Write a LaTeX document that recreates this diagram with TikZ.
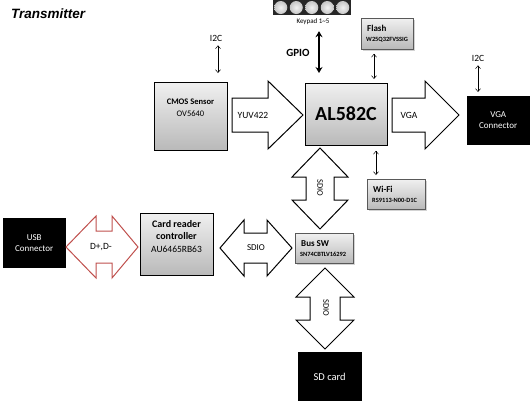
\documentclass[tikz,border=0pt]{standalone}
\usepackage{fontspec}
\setmainfont{Carlito}
\newfontfamily\titlefont{Liberation Sans}
\usetikzlibrary{shadows,arrows.meta}
\definecolor{usbred}{HTML}{C0504D}
\tikzset{
  graybox/.style={draw=black, line width=0.8pt, top color=gray!12, bottom color=gray!55, rectangle, inner sep=0pt, anchor=north west},
  smallbox/.style={graybox, draw=gray!70!black, drop shadow={shadow xshift=1.5pt, shadow yshift=-1.5pt, opacity=0.35}},
  blackbox/.style={fill=black, draw=black, rectangle, inner sep=0pt, anchor=north west, text=white, align=center, font=\fontsize{9}{11}\selectfont},
  blockarrow/.style={draw=black, line width=1pt, fill=white, line join=miter},
  thinarrow/.style={{Straight Barb[length=3pt,width=5pt]}-{Straight Barb[length=3pt,width=5pt]}, line width=0.5pt},
  lbl/.style={inner sep=0pt, align=center},
  tiny/.style={inner sep=0pt, anchor=west, font=\fontsize{6.4}{7}\bfseries\selectfont},
  boxtitle/.style={inner sep=0pt, anchor=west, font=\fontsize{9}{10}\bfseries\selectfont}
}
\begin{document}
\begin{tikzpicture}[x=1pt,y=-1pt]
\useasboundingbox (0,0) rectangle (530,400);

% title
\node[inner sep=0pt, anchor=west, font=\titlefont\fontsize{13.5}{15}\bfseries\itshape\selectfont] (title) at (11,14) {Transmitter};

% keypad
\foreach \i in {0,...,4} {
  \fill[black!85] (273+15.5*\i,0) rectangle (288.5+15.5*\i,15);
  \shade[inner color=gray!10, outer color=gray!45] (280.75+15.5*\i,7.5) circle (6.5);
}
\node[lbl, font=\fontsize{7}{8}\selectfont] (keypad) at (313,22) {Keypad 1\textasciitilde5};
\node[lbl, font=\fontsize{11}{12}\bfseries\selectfont] (gpio) at (298,53) {GPIO};

% main boxes
\node[graybox, minimum width=73pt, minimum height=68pt] (cmos) at (154,82) {};
\node[lbl, font=\fontsize{8.5}{11}\bfseries\selectfont] (cmost) at (190.5,102) {CMOS Sensor};
\node[lbl, font=\fontsize{8.5}{11}\selectfont] (cmosp) at (190.5,114) {OV5640};

\node[graybox, minimum width=82pt, minimum height=62pt] (al) at (305,83) {};
\node[lbl, font=\fontsize{20}{22}\bfseries\selectfont] (alt) at (346,114) {AL582C};

\node[smallbox, minimum width=52pt, minimum height=31pt] (flash) at (361,18) {};
\node[boxtitle] (flasht) at (367,28) {Flash};
\node[tiny] (flashp) at (366,40) {W25Q32FVSSIG};

\node[smallbox, minimum width=58pt, minimum height=30pt] (wifi) at (367,179) {};
\node[boxtitle] (wifit) at (373,189) {Wi-Fi};
\node[tiny] (wifip) at (372,200) {RS9113-N00-D1C};

\node[smallbox, minimum width=58pt, minimum height=30pt] (bus) at (295,233) {};
\node[boxtitle] (bust) at (301,244) {Bus SW};
\node[tiny] (busp) at (300,254) {SN74CBTLV16292};

\node[graybox, minimum width=73pt, minimum height=62pt] (card) at (140,213) {};
\node[lbl, font=\fontsize{10}{12}\bfseries\selectfont] (cardt) at (176.5,230) {Card reader\\controller};
\node[lbl, font=\fontsize{9.5}{11}\selectfont] (cardp) at (176.5,249) {AU6465RB63};

\node[blackbox, minimum width=62pt, minimum height=48pt] (vga) at (467,96) {VGA\\Connector};
\node[blackbox, minimum width=62pt, minimum height=49pt] (usb) at (3,218) {USB\\Connector};
\node[blackbox, minimum width=63pt, minimum height=50pt, font=\fontsize{10.5}{12}\selectfont] (sd) at (298,352) {SD card};

% I2C labels
\node[lbl, font=\fontsize{9.5}{10}\selectfont] (i2ca) at (216,38) {I2C};
\node[lbl, font=\fontsize{9.5}{10}\selectfont] (i2cb) at (478,58) {I2C};

% thin arrows (node to node, with gaps); yshift is in page units (up = +)
\coordinate (ka) at (218,0);
\draw[thinarrow] ([yshift=-4pt]i2ca.south -| ka) -- ([yshift=9pt]cmos.north -| ka);
\draw[thinarrow] ([yshift=-4pt]i2cb.south) -- ([yshift=4pt]vga.north -| i2cb);
\coordinate (kf) at (374,0);
\draw[thinarrow] ([yshift=-4pt]flash.south -| kf) -- ([yshift=4pt]al.north -| kf);
\coordinate (kw) at (376,0);
\draw[thinarrow] ([yshift=-5pt]al.south -| kw) -- ([yshift=4pt]wifi.north -| kw);
\coordinate (kg) at (319,0);
\draw[{Stealth[length=6pt,width=7pt]}-{Stealth[length=6pt,width=7pt]}, line width=1.8pt] ([yshift=-6pt]keypad.south -| kg) -- ([yshift=10pt]al.north -| kg);

% block arrows
\draw[blockarrow] (232,98) -- (268,98) -- (268,81) -- (303,115) -- (268,149) -- (268,132) -- (232,132) -- cycle;
\node[lbl, font=\fontsize{9.5}{11}\selectfont] (yuv) at (253,115) {YUV422};

\draw[blockarrow] (392,98) -- (425,98) -- (425,81) -- (459,115) -- (425,149) -- (425,132) -- (392,132) -- cycle;
\node[lbl, font=\fontsize{9.5}{11}\selectfont] (vgal) at (409,115) {VGA};

\draw[blockarrow] (320,148) -- (348,177) -- (334,177) -- (334,200) -- (348,200) -- (320,229) -- (292,200) -- (306,200) -- (306,177) -- (292,177) -- cycle;
\node[lbl, rotate=-90, font=\fontsize{8.5}{10}\selectfont] (sdio1) at (320,188) {SDIO};

\draw[blockarrow] (220,248) -- (244,220) -- (244,233) -- (267,233) -- (267,220) -- (292,248) -- (267,276) -- (267,263) -- (244,263) -- (244,276) -- cycle;
\node[lbl, font=\fontsize{9}{10}\selectfont] (sdio2) at (256,248) {SDIO};

\draw[blockarrow] (325,268) -- (354,297) -- (340,297) -- (340,320) -- (354,320) -- (325,349) -- (296,320) -- (310,320) -- (310,297) -- (296,297) -- cycle;
\node[lbl, rotate=-90, font=\fontsize{8.5}{10}\selectfont] (sdio3) at (326,308) {SDIO};

\draw[blockarrow, draw=usbred] (66,247) -- (96,216) -- (96,231) -- (112,231) -- (112,216) -- (138,247) -- (112,278) -- (112,263) -- (96,263) -- (96,278) -- cycle;
\node[lbl, font=\fontsize{9.5}{11}\selectfont] (dpm) at (101,247) {D+,D-};
\end{tikzpicture}
\end{document}
